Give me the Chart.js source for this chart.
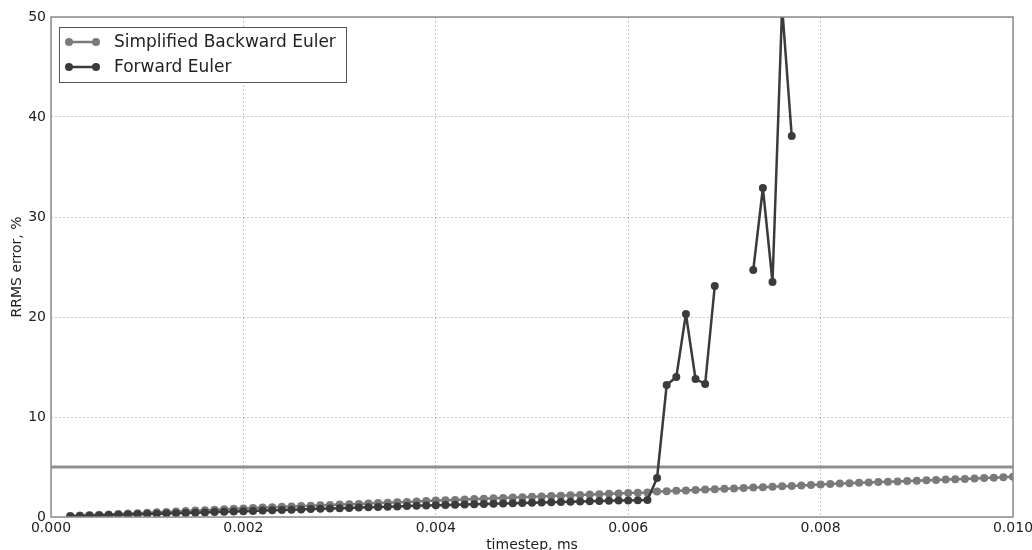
<!DOCTYPE html>
<html>
<head>
<meta charset="utf-8">
<script src="https://cdn.jsdelivr.net/npm/chart.js@4/dist/chart.umd.min.js"></script>
<style>
  html, body { margin: 0; padding: 0; background: #fff; }
  canvas { display: block; }
</style>
</head>
<body>
<canvas id="errChart" width="1032" height="550"></canvas>
<script>
// timestep values, ms
const timesteps = [
  0.0002, 0.0003, 0.0004, 0.0005, 0.0006, 0.0007, 0.0008, 0.0009, 0.0010,
  0.0011, 0.0012, 0.0013, 0.0014, 0.0015, 0.0016, 0.0017, 0.0018, 0.0019, 0.0020,
  0.0021, 0.0022, 0.0023, 0.0024, 0.0025, 0.0026, 0.0027, 0.0028, 0.0029, 0.0030,
  0.0031, 0.0032, 0.0033, 0.0034, 0.0035, 0.0036, 0.0037, 0.0038, 0.0039, 0.0040,
  0.0041, 0.0042, 0.0043, 0.0044, 0.0045, 0.0046, 0.0047, 0.0048, 0.0049, 0.0050,
  0.0051, 0.0052, 0.0053, 0.0054, 0.0055, 0.0056, 0.0057, 0.0058, 0.0059, 0.0060,
  0.0061, 0.0062, 0.0063, 0.0064, 0.0065, 0.0066, 0.0067, 0.0068, 0.0069, 0.0070,
  0.0071, 0.0072, 0.0073, 0.0074, 0.0075, 0.0076, 0.0077, 0.0078, 0.0079, 0.0080,
  0.0081, 0.0082, 0.0083, 0.0084, 0.0085, 0.0086, 0.0087, 0.0088, 0.0089, 0.0090,
  0.0091, 0.0092, 0.0093, 0.0094, 0.0095, 0.0096, 0.0097, 0.0098, 0.0099, 0.0100
];

// RRMS error, % (simplified backward euler)
const backwardEuler = [
  0.10, 0.14, 0.18, 0.22, 0.26, 0.30, 0.34, 0.38, 0.42,
  0.47, 0.51, 0.55, 0.60, 0.64, 0.68, 0.73, 0.77, 0.82, 0.86,
  0.90, 0.94, 0.98, 1.02, 1.06, 1.10, 1.13, 1.17, 1.20, 1.24,
  1.27, 1.31, 1.35, 1.39, 1.43, 1.47, 1.51, 1.56, 1.60, 1.64,
  1.68, 1.71, 1.75, 1.79, 1.83, 1.87, 1.90, 1.94, 1.98, 2.02,
  2.06, 2.09, 2.13, 2.17, 2.20, 2.24, 2.28, 2.32, 2.36, 2.40,
  2.43, 2.46, 2.55, 2.58, 2.62, 2.66, 2.70, 2.74, 2.78, 2.82,
  2.86, 2.90, 2.94, 2.98, 3.02, 3.07, 3.11, 3.16, 3.21, 3.26,
  3.30, 3.34, 3.38, 3.42, 3.46, 3.50, 3.53, 3.56, 3.59, 3.62,
  3.67, 3.71, 3.75, 3.78, 3.81, 3.85, 3.89, 3.93, 3.97, 4.03
];

// RRMS error, % (forward euler), null = no value
const forwardEuler = [
  0.08, 0.11, 0.14, 0.16, 0.19, 0.22, 0.24, 0.27, 0.30,
  0.32, 0.35, 0.38, 0.41, 0.43, 0.46, 0.49, 0.52, 0.55, 0.58,
  0.61, 0.64, 0.67, 0.70, 0.73, 0.76, 0.79, 0.82, 0.85, 0.88,
  0.91, 0.94, 0.97, 1.00, 1.03, 1.06, 1.09, 1.12, 1.15, 1.18,
  1.21, 1.23, 1.26, 1.28, 1.31, 1.33, 1.36, 1.38, 1.41, 1.43,
  1.46, 1.48, 1.51, 1.53, 1.56, 1.58, 1.60, 1.62, 1.64, 1.66,
  1.68, 1.70, 3.90, 13.2, 14.0, 20.3, 13.8, 13.3, 23.1, null,
  null, null, 24.7, 32.9, 23.5, 51.0, 38.1, null, null, null,
  null, null, null, null, null, null, null, null, null, null,
  null, null, null, null, null, null, null, null, null, null
];

const thresholdLevel = 5;
const xTicks = [0, 0.002, 0.004, 0.006, 0.008, 0.010];
const yTicks = [0, 10, 20, 30, 40, 50];

const seriesNames = ['Simplified Backward Euler', 'Forward Euler'];
const seriesColors = ['#7a7a7a', '#3b3b3b'];

function toPoints(values) {
  return timesteps.map((t, i) => ({ x: t, y: values[i] }));
}

// box legend with line+marker samples, drawn onto the canvas
const boxLegend = {
  id: 'boxLegend',
  afterDatasetsDraw(chart) {
    const ctx = chart.ctx;
    ctx.save();
    ctx.fillStyle = '#ffffff';
    ctx.fillRect(59.5, 27.5, 287, 55);
    ctx.strokeStyle = '#555555';
    ctx.lineWidth = 1;
    ctx.strokeRect(59.5, 27.5, 287, 55);
    ctx.font = '17px "DejaVu Sans"';
    ctx.textBaseline = 'middle';
    seriesNames.forEach((name, i) => {
      const y = 42 + i * 25;
      ctx.strokeStyle = seriesColors[i];
      ctx.fillStyle = seriesColors[i];
      ctx.lineWidth = 2.5;
      ctx.beginPath();
      ctx.moveTo(69, y);
      ctx.lineTo(96, y);
      ctx.stroke();
      [69, 96].forEach(px => {
        ctx.beginPath();
        ctx.arc(px, y, 4, 0, Math.PI * 2);
        ctx.fill();
      });
      ctx.fillStyle = '#222222';
      ctx.fillText(name, 114, y + 1);
    });
    ctx.restore();
  }
};

// full frame around the plot area
const plotFrame = {
  id: 'plotFrame',
  afterDraw(chart) {
    const a = chart.chartArea;
    const ctx = chart.ctx;
    ctx.save();
    ctx.strokeStyle = '#8c8c8c';
    ctx.lineWidth = 1.5;
    ctx.strokeRect(a.left, a.top, a.right - a.left, a.bottom - a.top);
    ctx.restore();
  }
};

const ctx = document.getElementById('errChart').getContext('2d');
const errChart = new Chart(ctx, {
  type: 'line',
  data: {
    datasets: [
      {
        label: seriesNames[1],
        data: toPoints(forwardEuler),
        borderColor: seriesColors[1],
        backgroundColor: seriesColors[1],
        borderWidth: 2.5,
        borderJoinStyle: 'round',
        pointRadius: 4,
        pointBorderWidth: 0,
        spanGaps: false,
        order: 1
      },
      {
        label: seriesNames[0],
        data: toPoints(backwardEuler),
        borderColor: seriesColors[0],
        backgroundColor: seriesColors[0],
        borderWidth: 2.5,
        borderJoinStyle: 'round',
        pointRadius: 4,
        pointBorderWidth: 0,
        order: 2
      },
      {
        label: 'threshold',
        data: [{ x: 0, y: thresholdLevel }, { x: 0.01, y: thresholdLevel }],
        borderColor: '#8f8f8f',
        borderWidth: 3,
        pointRadius: 0,
        order: 3
      }
    ]
  },
  options: {
    responsive: false,
    animation: false,
    layout: { padding: { top: 17, right: 19, left: 0, bottom: 0 } },
    plugins: {
      legend: { display: false },
      tooltip: { enabled: false }
    },
    scales: {
      x: {
        type: 'linear',
        min: 0,
        max: 0.01,
        afterFit: scale => {
          scale.height = 33;
          scale.paddingLeft = 0;
          scale.paddingRight = 0;
        },
        afterBuildTicks: scale => { scale.ticks = xTicks.map(v => ({ value: v })); },
        ticks: {
          color: '#222222',
          font: { family: 'DejaVu Sans', size: 14 },
          padding: 3,
          maxRotation: 0,
          callback: v => v.toFixed(3)
        },
        grid: {
          color: 'rgba(0,0,0,0.22)',
          lineWidth: 1,
          drawTicks: false
        },
        border: { display: false, dash: [2, 2] },
        title: {
          display: true,
          text: 'timestep, ms',
          color: '#222222',
          font: { family: 'DejaVu Sans', size: 14, lineHeight: 0.7 },
          padding: 0
        }
      },
      y: {
        min: 0,
        max: 50,
        afterFit: scale => { scale.width = 51; },
        afterBuildTicks: scale => { scale.ticks = yTicks.map(v => ({ value: v })); },
        ticks: {
          color: '#222222',
          font: { family: 'DejaVu Sans', size: 14 },
          padding: 5
        },
        grid: {
          color: 'rgba(0,0,0,0.22)',
          lineWidth: 1,
          drawTicks: false
        },
        border: { display: false, dash: [2, 2] },
        title: {
          display: true,
          text: 'RRMS error, %',
          color: '#222222',
          font: { family: 'DejaVu Sans', size: 14, lineHeight: 1 },
          padding: { top: 10, bottom: 0 }
        }
      }
    }
  },
  plugins: [boxLegend, plotFrame]
});
</script>
</body>
</html>
